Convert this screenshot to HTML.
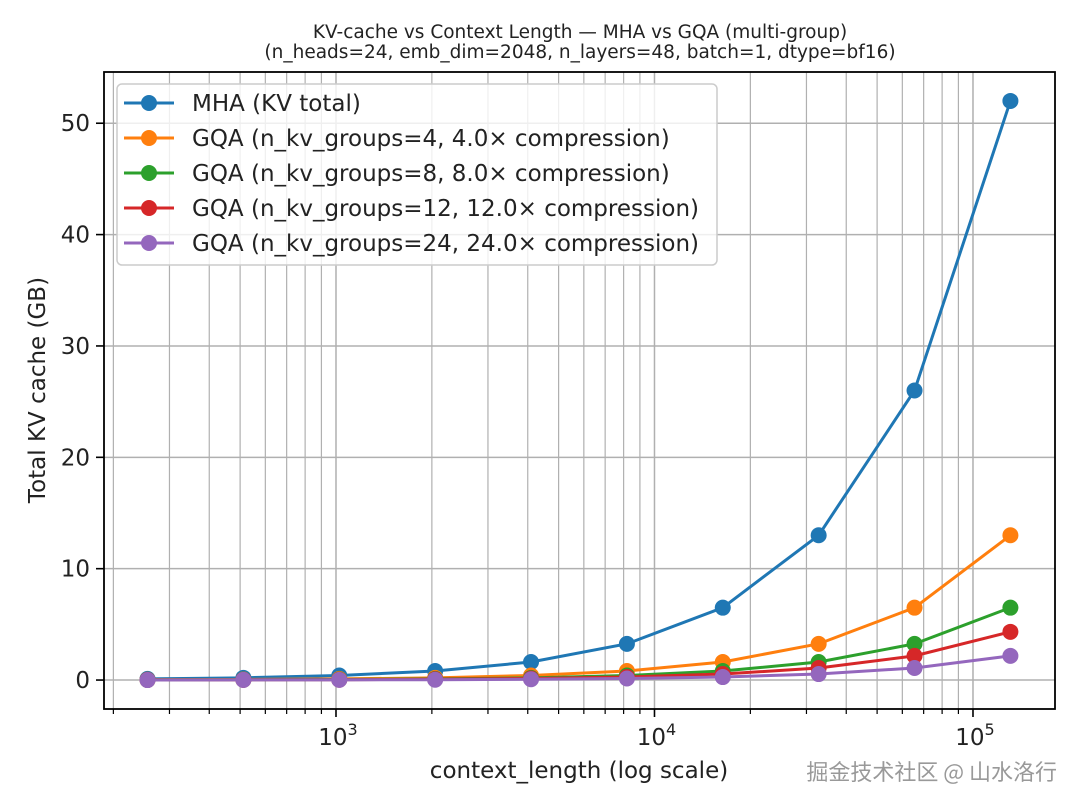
<!DOCTYPE html>
<html><head><meta charset="utf-8"><style>
body{margin:0;background:#fff}
svg{display:block;font-family:"DejaVu Sans","Liberation Sans","Noto Sans CJK SC",sans-serif}
</style></head><body>
<svg id="chart" width="1080" height="810">
<rect width="1080" height="810" fill="#fff"/>
<text x="580" y="38" font-size="18.5" text-anchor="middle" fill="#222">KV-cache vs Context Length — MHA vs GQA (multi-group)</text>
<text x="580" y="58" font-size="18.5" text-anchor="middle" fill="#222">(n_heads=24, emb_dim=2048, n_layers=48, batch=1, dtype=bf16)</text>
<g id="grid"></g>
<g id="series"></g>
<rect x="104" y="72" width="951" height="637" fill="none" stroke="#000" stroke-width="1.8"/>
<g id="axes"></g>
<text x="579" y="778" font-size="23" text-anchor="middle" fill="#222">context_length (log scale)</text>
<text transform="translate(45,390) rotate(-90)" font-size="23" text-anchor="middle" fill="#222">Total KV cache (GB)</text>
<g id="legend"></g>
<text x="1057" y="780" font-size="22" text-anchor="end" fill="#999" font-family="Noto Sans CJK SC,sans-serif">掘金技术社区 @ 山水洛行</text>
</svg>
<script>
const contextLengths=[256,512,1024,2048,4096,8192,16384,32768,65536,131072];
const mhaValues=[0.10,0.20,0.41,0.81,1.62,3.25,6.5,13.0,26.0,52.0];
const gqa4Values=[0.03,0.05,0.10,0.20,0.41,0.81,1.62,3.25,6.5,13.0];
const gqa8Values=[0.01,0.03,0.05,0.10,0.20,0.41,0.81,1.62,3.25,6.5];
const gqa12Values=[0.01,0.02,0.03,0.07,0.14,0.27,0.54,1.08,2.17,4.33];
const gqa24Values=[0.00,0.01,0.02,0.03,0.07,0.14,0.27,0.54,1.08,2.17];
const seriesLabels=["MHA (KV total)","GQA (n_kv_groups=4, 4.0× compression)","GQA (n_kv_groups=8, 8.0× compression)","GQA (n_kv_groups=12, 12.0× compression)","GQA (n_kv_groups=24, 24.0× compression)"];
const seriesColors=["#1f77b4","#ff7f0e","#2ca02c","#d62728","#9467bd"];
const yTicks=[0,10,20,30,40,50];
const xMajorExps=[3,4,5];

const NS="http://www.w3.org/2000/svg";
const L=104,R=1055,T=72,B=709;
const xMin=2.2716,xMax=5.2575,yMin=-2.6,yMax=54.6;
const xs=v=>L+(Math.log10(v)-xMin)/(xMax-xMin)*(R-L);
const ys=v=>B-(v-yMin)/(yMax-yMin)*(B-T);
function mk(tag,attrs,parent){const e=document.createElementNS(NS,tag);for(const k in attrs)e.setAttribute(k,attrs[k]);parent.appendChild(e);return e;}
const grid=document.getElementById('grid'),axes=document.getElementById('axes');
for(let e=2;e<=5;e++){for(let m=1;m<10;m++){const v=m*Math.pow(10,e);const lv=Math.log10(v);if(lv<xMin||lv>xMax)continue;const x=xs(v);
const g=mk('line',{x1:x,x2:x,y1:T,y2:B,stroke:'#b0b0b0','stroke-width':m===1?1.5:1.2},grid);


const t=mk('line',{x1:x,x2:x,y1:B,y2:B+(m===1?8:5),stroke:'#000','stroke-width':m===1?1.6:1.2},axes);


}}
xMajorExps.forEach(e=>{const x=xs(Math.pow(10,e));const t=mk('text',{x:x+2,y:745,'font-size':23,'text-anchor':'middle',fill:'#222'},axes);


t.textContent='10';const s=mk('tspan',{'font-size':16,dy:-10},t);s.textContent=String(e);});
yTicks.forEach(v=>{const y=ys(v);
const g=mk('line',{x1:L,x2:R,y1:y,y2:y,stroke:'#b0b0b0','stroke-width':1.5},grid);


const t=mk('line',{x1:L-8,x2:L,y1:y,y2:y,stroke:'#000','stroke-width':1.6},axes);


const lb=mk('text',{x:L-14,y:y+8,'font-size':23,'text-anchor':'end',fill:'#222'},axes);


lb.textContent=String(v);});
const allSeries=[mhaValues,gqa4Values,gqa8Values,gqa12Values,gqa24Values];
const sg=document.getElementById('series');
allSeries.forEach((vals,i)=>{const pts=contextLengths.map((c,j)=>xs(c)+','+ys(vals[j])).join(' ');
const pl=mk('polyline',{points:pts,fill:'none',stroke:seriesColors[i],'stroke-width':3},sg);


contextLengths.forEach((c,j)=>{const p=mk('circle',{cx:xs(c),cy:ys(vals[j]),r:8,fill:seriesColors[i]},sg);

});});
const lg=document.getElementById('legend');
const box=mk('rect',{x:117,y:84,width:600,height:181,rx:5,fill:'#fff','fill-opacity':0.8,stroke:'#ccc','stroke-width':1.5},lg);


seriesLabels.forEach((s,i)=>{const y=103+i*35;
const ln=mk('line',{x1:124,x2:174,y1:y,y2:y,stroke:seriesColors[i],'stroke-width':3},lg);


const c=mk('circle',{cx:149,cy:y,r:8,fill:seriesColors[i]},lg);


const t=mk('text',{x:192,y:y+8,'font-size':23,fill:'#222'},lg);


t.textContent=s;});
</script>
</body></html>
